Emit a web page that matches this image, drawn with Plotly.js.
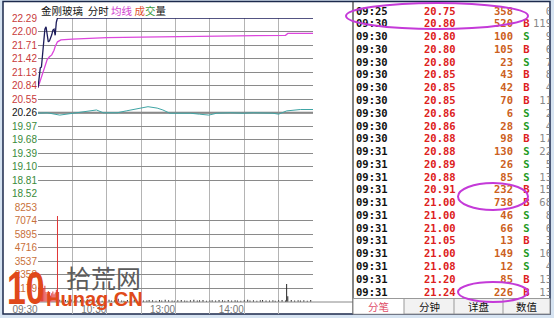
<!DOCTYPE html>
<html><head><meta charset="utf-8">
<script src="https://cdn.plot.ly/plotly-3.0.1.min.js"></script>
<style>html,body{margin:0;padding:0;background:#d6e3f1;} #chart{width:554px;height:318px;}</style>
</head><body><div id="chart"></div>
<script>
// ================= DATA =================
const stockName = "金刚玻璃";
const prevClose = 20.26;
const priceTicks = [18.52,18.81,19.10,19.39,19.68,19.97,20.26,20.55,20.84,21.13,21.42,21.71,22.00,22.29];
const pctLabels  = ["8.59%","7.16%","5.73%","4.29%","2.86%","1.43%","0.00%","1.43%","2.86%","4.29%","5.73%","7.16%","8.59%","10.02%"];
const volTicks   = [1179,2358,3537,4716,5895,7074,8253];
const timeTickVals = [0,30,60,90,120,150,180,210,240];
const timeTickText = ["09:30","","10:30","","13:00","","14:00","",""];

// price line (minutes from 09:30)
const priceMin = [0,1,2,3,4,5,6,7,8,9,10,11,12,13,14,15,16,17,240];
const priceVal = [20.80,21.05,21.22,21.24,21.50,21.85,22.05,22.10,21.95,21.78,21.80,21.85,21.93,22.03,22.05,21.92,22.20,22.29,22.29];

// average price line
const avgMin = [0,2,4,6,8,10,12,14,15,17,20,30,60,90,120,150,180,216,218,240];
const avgVal = [20.80,20.95,21.10,21.30,21.40,21.46,21.50,21.60,21.68,21.78,21.82,21.84,21.87,21.88,21.89,21.90,21.91,21.92,21.96,21.96];

// teal indicator line
const tealMin = [0,8,19,32,42,51,57,69,77,89,96,104,109,115,124,133,141,149,156,168,179,188,205,210,217,229,240];
const tealVal = [20.25,20.26,20.21,20.26,20.30,20.32,20.26,20.26,20.30,20.36,20.39,20.36,20.32,20.25,20.25,20.25,20.23,20.21,20.25,20.26,20.25,20.26,20.25,20.23,20.30,20.33,20.33];

// volume bars
const volMin = [0,1,2,3,4,5,6,7,8,9,10,11,12,13,14,15,16,17,
  19,21,24,26,29,32,34,37,40,43,
  45,48,51,53,56,59,62,64,67,70,
  73,75,78,81,84,86,89,92,95,97,
  100,103,106,108,111,114,117,119,122,125,
  128,130,133,136,139,141,144,147,150,152,
  155,158,161,163,166,169,172,174,177,180,
  183,185,188,191,194,196,199,202,205,207,
  210,213,216,217,218,221,224,227,229,232,
  235,238];
const volVal = [1300,1650,900,1150,1500,1200,1400,850,700,950,600,550,750,900,650,800,1050,7480,
  180,120,150,90,200,140,110,160,130,220,
  100,170,120,150,90,130,180,110,140,260,
  120,100,150,130,170,90,140,120,110,160,
  130,100,150,120,180,140,110,90,130,160,
  120,100,140,170,110,130,150,90,120,140,
  110,160,130,100,150,120,140,110,90,130,
  170,120,140,100,130,150,110,120,140,100,
  130,160,120,1560,480,150,120,140,110,130,
  100,150];

// trade list
const tradeTime  = ["09:25","09:30","09:30","09:30","09:30","09:30","09:30","09:30","09:30","09:30","09:30","09:31","09:31","09:31","09:31","09:31","09:31","09:31","09:31","09:31","09:31","09:31","09:31"];
const tradePrice = [20.75,20.80,20.80,20.80,20.80,20.85,20.85,20.85,20.86,20.86,20.88,20.88,20.89,20.88,20.91,21.00,21.00,21.00,21.05,21.00,21.08,21.20,21.24];
const tradeVol   = [358,520,100,105,23,43,42,70,6,28,98,130,26,85,232,738,46,66,13,149,12,85,226];
const tradeSide  = ["","B","S","B","S","B","B","B","S","S","B","S","S","S","B","B","S","S","B","S","S","B","B"];
const tradeNum   = ["0","119","9","6","7","8","4","11","2","4","17","22","5","13","15","68","8","6","3","16","4","13","13"];
const tabs = ["分笔","分钟","详盘","数值"];

// ================= STYLE / LAYOUT =================
const W = 554, H = 318;
const fx = x => x / W;
const fy = y => 1 - y / H;
const RED = '#c83a3a', GREEN = '#3a8a3a', VOLC = '#c8703a';
const colorFor = v => v > prevClose + 1e-9 ? RED : (v < prevClose - 1e-9 ? GREEN : '#111');
const priceTickText = priceTicks.map(v => `<span style="color:${colorFor(v)}">${v.toFixed(2)}</span>`);
const pctTickText = priceTicks.map((v, i) => `<span style="color:${colorFor(v)}">${pctLabels[i]}</span>`);
const volTickText = volTicks.map(v => String(v));

const PX0 = 38, PX1 = 313;
const PRICE_TOP = 18, PRICE_BOT = 194;
const VOL_TOP = 207, VOL_BOT = 301.8;
const ROW0 = 12, ROWH = 12.77;
const rowOf = y => (y - ROW0) / ROWH;
const axFont = {family: 'Liberation Sans, Arial', size: 10};

const traces = [];
traces.push({type: 'scatter', x: [0], y: [0], mode: 'markers', marker: {opacity: 0}, xaxis: 'x', yaxis: 'y', hoverinfo: 'skip'});
traces.push({type: 'scatter', mode: 'lines', x: tealMin, y: tealVal, line: {color: '#3fa5a5', width: 1}, xaxis: 'x2', yaxis: 'y2', hoverinfo: 'skip'});
traces.push({type: 'scatter', mode: 'lines', x: avgMin, y: avgVal, line: {color: '#dc46dc', width: 1.3}, xaxis: 'x2', yaxis: 'y2', hoverinfo: 'skip'});
traces.push({type: 'scatter', mode: 'lines', x: priceMin, y: priceVal, line: {color: '#1c1c5a', width: 1.3}, xaxis: 'x2', yaxis: 'y2', hoverinfo: 'skip', cliponaxis: false});
traces.push({type: 'bar', x: volMin, y: volVal, width: 0.85,
  marker: {color: volMin.map(m => m <= 17 ? '#e03232' : '#222'), line: {width: 0}},
  xaxis: 'x3', yaxis: 'y3', hoverinfo: 'skip'});

const rows = tradeTime.map((_, i) => i);
const cols = {time: 356, price: 424, vol: 513, side: 526.5, num: 552};
const tFont = (c) => ({family: 'DejaVu Sans Mono', size: 10.5, color: c, weight: 'bold'});
const tbl = (xc, text, pos, color) => ({type: 'scatter', mode: 'text', x: rows.map(() => xc), y: rows, text: text,
  textposition: pos, textfont: tFont(color), xaxis: 'x6', yaxis: 'y6', cliponaxis: true, hoverinfo: 'skip'});
traces.push(tbl(cols.time, tradeTime, 'middle right', '#111'));
traces.push(tbl(cols.price, tradePrice.map(v => v.toFixed(2)), 'middle right', '#dd2020'));
traces.push(tbl(cols.vol, tradeVol.map(String), 'middle left', '#cc6020'));
traces.push(tbl(cols.side, tradeSide, 'middle center', tradeSide.map(s => s === 'B' ? '#dd2020' : '#1f9a1f')));
const numTrace = tbl(cols.num, tradeNum, 'middle left', '#888');
numTrace.textfont.weight = 'normal';
traces.push(numTrace);

const P = (o) => Object.assign({xref: 'paper', yref: 'paper'}, o);
const shapes = [
  P({type: 'rect', x0: fx(3), x1: fx(550), y0: fy(314), y1: fy(1.5), fillcolor: '#fff', line: {color: '#1c2a4c', width: 1.5}, layer: 'below'}),
  P({type: 'line', x0: fx(353), x1: fx(353), y0: fy(314), y1: fy(1.5), line: {color: '#333', width: 1.2}}),
  P({type: 'line', x0: fx(PX0), x1: fx(353), y0: fy(302), y1: fy(302), line: {color: '#888', width: 1}, layer: 'below'}),
  {type: 'line', xref: 'x2', yref: 'y2', x0: 0, x1: 240, y0: prevClose, y1: prevClose, line: {color: '#777', width: 2}, layer: 'below'},
  P({type: 'rect', x0: fx(353), x1: fx(550), y0: fy(314), y1: fy(298.5), fillcolor: '#f2f2f2', line: {color: '#999', width: 1}}),
  P({type: 'rect', x0: fx(354), x1: fx(404), y0: fy(313.5), y1: fy(299), fillcolor: '#fff', line: {width: 0}}),
  P({type: 'line', x0: fx(404), x1: fx(404), y0: fy(314), y1: fy(298.5), line: {color: '#999', width: 1}}),
  P({type: 'line', x0: fx(454), x1: fx(454), y0: fy(314), y1: fy(298.5), line: {color: '#999', width: 1}}),
  P({type: 'line', x0: fx(503), x1: fx(503), y0: fy(314), y1: fy(298.5), line: {color: '#999', width: 1}}),
  P({type: 'circle', x0: fx(346), x1: fx(528), y0: fy(29), y1: fy(3), line: {color: '#c43ad8', width: 2}}),
  P({type: 'circle', x0: fx(458), x1: fx(528), y0: fy(210), y1: fy(183), line: {color: '#c43ad8', width: 2}}),
  P({type: 'circle', x0: fx(458), x1: fx(528), y0: fy(302), y1: fy(282), line: {color: '#c43ad8', width: 2}})
];

const cjk = 'Noto Sans CJK SC';
const A = (o) => Object.assign({xref: 'paper', yref: 'paper', showarrow: false, yanchor: 'middle', xanchor: 'center'}, o);
const annotations = [
  A({x: fx(39), y: fy(11), xanchor: 'left',
     text: `${stockName}  分时 <span style="color:#d040d0">均线</span> <span style="color:#e05030">成</span><span style="color:#3a9a3a">交</span>量`,
     font: {family: cjk, size: 10.5, color: '#111'}})
];
const tabCenters = [378, 429, 479, 527];
tabs.forEach((t, i) => annotations.push(A({x: fx(tabCenters[i]), y: fy(306.5), text: t,
  font: {family: cjk, size: 10.5, color: i === 0 ? '#e0506a' : '#111'}})));
// watermark
annotations.push(A({x: fx(103), y: fy(277), text: '拾荒网', font: {family: cjk, size: 25, color: '#5c5c5c'}}));
annotations.push(A({x: fx(44), y: fy(299), xanchor: 'left', text: '<b>Hunag.CN</b>',
  font: {family: 'Liberation Sans, Arial', size: 20, color: '#e04a1a'}}));
annotations.push(A({x: fx(5), y: fy(287), xanchor: 'left', text: '<b>10</b>',
  font: {family: 'Liberation Sans, Arial', size: 47, color: '#e0481a'}}));

const xDom = [fx(PX0), fx(PX1)];
const layout = {
  width: W, height: H, margin: {l: 0, r: 0, t: 0, b: 0},
  paper_bgcolor: '#d6e3f1', plot_bgcolor: 'rgba(0,0,0,0)', showlegend: false, hovermode: false,
  xaxis: {domain: xDom, range: [0, 240], anchor: 'y', tickvals: timeTickVals, showgrid: true, gridcolor: '#b4b4b4', gridwidth: 1,
          showticklabels: false, ticks: '', zeroline: false, showline: false, fixedrange: true},
  yaxis: {domain: [fy(314), fy(PRICE_TOP)], range: [0, 1], anchor: 'x', visible: false, fixedrange: true},
  xaxis2: {domain: xDom, range: [0, 240], anchor: 'y2', showgrid: false, showticklabels: false, ticks: '', zeroline: false, fixedrange: true},
  yaxis2: {domain: [fy(PRICE_BOT), fy(PRICE_TOP)], range: [18.5195, 22.2905], anchor: 'x2', tickvals: priceTicks, ticktext: priceTickText,
           showgrid: true, gridcolor: '#8a8a8a', gridwidth: 1, zeroline: false, ticks: '', tickfont: axFont, fixedrange: true},
  yaxis4: {overlaying: 'y2', side: 'right', anchor: 'x2', range: [18.5195, 22.2905], tickvals: priceTicks, ticktext: pctTickText,
           showgrid: false, zeroline: false, ticks: 'outside', ticklen: 3, tickcolor: '#888', tickfont: axFont, fixedrange: true},
  xaxis3: {domain: xDom, range: [0, 240], anchor: 'y3', tickvals: timeTickVals, ticktext: timeTickText, showgrid: false, ticks: '',
           zeroline: false, tickfont: {family: 'Liberation Sans, Arial', size: 10, color: '#777'}, ticklabelshift: -13, fixedrange: true},
  yaxis3: {domain: [fy(VOL_BOT), fy(VOL_TOP)], range: [0, 8253.5], anchor: 'x3', tickvals: volTicks, ticktext: volTickText,
           showgrid: true, gridcolor: '#8a8a8a', gridwidth: 1, zeroline: false, ticks: '', tickfont: {...axFont, color: VOLC}, fixedrange: true},
  yaxis5: {overlaying: 'y3', side: 'right', anchor: 'x3', range: [0, 8253.5], tickvals: volTicks, ticktext: volTickText,
           showgrid: false, zeroline: false, ticks: 'outside', ticklen: 3, tickcolor: '#888', tickfont: {...axFont, color: VOLC}, fixedrange: true},
  xaxis6: {domain: [fx(353.5), fx(549.5)], range: [353.5, 549.5], anchor: 'y6', visible: false, fixedrange: true},
  yaxis6: {domain: [fy(298), fy(2)], range: [rowOf(298), rowOf(2)], anchor: 'x6', visible: false, fixedrange: true},
  shapes: shapes, annotations: annotations
};

Plotly.newPlot('chart', traces, layout, {staticPlot: true, displayModeBar: false}).then(() => {
  document.querySelectorAll('.annotation-text').forEach(t => {
    if (t.textContent === '10') {
      t.style.transformBox = 'fill-box';
      t.style.transformOrigin = 'left center';
      t.style.transform = 'scaleX(0.72)';
    }
  });
});
</script>
</body></html>
